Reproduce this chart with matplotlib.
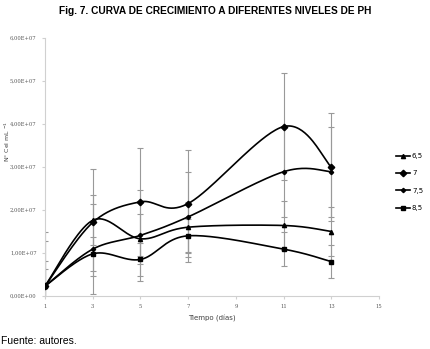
import numpy as np
import matplotlib
matplotlib.use("Agg")
import matplotlib.pyplot as plt
from matplotlib.lines import Line2D
from matplotlib.ticker import FuncFormatter

dias = [1, 3, 5, 7, 11, 13]
ph_labels = ['6,5', '7', '7,5', '8,5']
ph65 = [0.23e7, 1.76e7, 1.33e7, 1.60e7, 1.64e7, 1.50e7]
ph7 = [0.23e7, 1.71e7, 2.19e7, 2.15e7, 3.94e7, 3.00e7]
ph75 = [0.23e7, 1.09e7, 1.41e7, 1.84e7, 2.89e7, 2.89e7]
ph85 = [0.23e7, 0.98e7, 0.85e7, 1.40e7, 1.09e7, 0.80e7]
err65 = 0.58e7
err7 = 1.25e7
err75 = 1.05e7
err85 = 0.39e7

series = [ph65, ph7, ph75, ph85]
errs = [err65, err7, err75, err85]
markers = ['^', 'D', 'D', 's']
msizes = [3, 3.3, 2.2, 3.3]


def smooth(xs, ys, sx, sy, n=40):
    # parametric catmull-rom in screen-like units, like excel smoothed lines
    p = np.column_stack([np.array(xs) * sx, np.array(ys) * sy])
    p = np.vstack([p[0], p, p[-1]])
    out = []
    for i in range(1, len(p) - 2):
        p0, p1, p2, p3 = p[i - 1], p[i], p[i + 1], p[i + 2]
        t = np.linspace(0, 1, n)[:, None]
        m1 = (p2 - p0) / 2
        m2 = (p3 - p1) / 2
        h00 = 2 * t**3 - 3 * t**2 + 1
        h10 = t**3 - 2 * t**2 + t
        h01 = -2 * t**3 + 3 * t**2
        h11 = t**3 - t**2
        out.append(h00 * p1 + h10 * m1 + h01 * p2 + h11 * m2)
    c = np.vstack(out)
    return c[:, 0] / sx, c[:, 1] / sy


fig = plt.figure(figsize=(4.3, 3.49), dpi=100)
ax = fig.add_axes([45 / 430, 53 / 349, 334 / 430, 258 / 349])

for ys, e in zip(series, errs):
    ax.errorbar(dias, ys, yerr=e, fmt='none', ecolor='#999999', elinewidth=0.8,
                capsize=2.5, capthick=0.8, zorder=2)

for ys, m, ms in zip(series, markers, msizes):
    sx_, sy_ = smooth(dias, ys, 334 / 14, 258 / 6e7)
    ax.plot(sx_, sy_, color='black', lw=1.2, zorder=3)
    ax.plot(dias, ys, ls='none', marker=m, ms=ms, color='black', zorder=4)

ax.set_xlim(1, 15)
ax.set_ylim(0, 6e7)
ax.set_xticks(range(1, 16, 2))
ax.set_yticks(np.arange(0, 6.01e7, 1e7))
ax.yaxis.set_major_formatter(FuncFormatter(lambda v, p: ('%.2E' % v).replace('.', ',')))
for s in ['top', 'right']:
    ax.spines[s].set_visible(False)
for s in ['left', 'bottom']:
    ax.spines[s].set_color('#d0d0d0')
    ax.spines[s].set_linewidth(0.8)
ax.tick_params(axis='both', length=2, color='#d0d0d0', labelsize=3.8,
               labelcolor='#595959', pad=4)
for lab in ax.get_xticklabels() + ax.get_yticklabels():
    lab.set_family('DejaVu Serif')
ax.set_xlabel('Tiempo (días)', fontsize=5, color='#404040', labelpad=4)
fig.text(7 / 430, 1 - 141 / 349, 'N° Cel mL $^{-1}$', rotation=90, fontsize=4.5,
         color='#404040', ha='center', va='center')

handles = [Line2D([0], [0], color='black', lw=1.2, marker=m, ms=ms)
           for m, ms in zip(markers, msizes)]
fig.legend(handles, ph_labels, loc='upper left', bbox_to_anchor=(396 / 430, 1 - 153 / 349),
           frameon=False, fontsize=5, handlelength=2.0, handletextpad=0.3,
           labelspacing=1.65, borderaxespad=0, borderpad=0)

fig.text(215 / 430, 1 - 11 / 349, 'Fig. 7. CURVA DE CRECIMIENTO A DIFERENTES NIVELES DE PH',
         ha='center', va='center', fontsize=7.3, fontweight='bold', family='Liberation Sans')
fig.text(1 / 430, 1 - 341 / 349, 'Fuente: autores.', ha='left', va='center',
         fontsize=7.5, family='Liberation Sans')

fig.savefig('out.png', dpi=100)
